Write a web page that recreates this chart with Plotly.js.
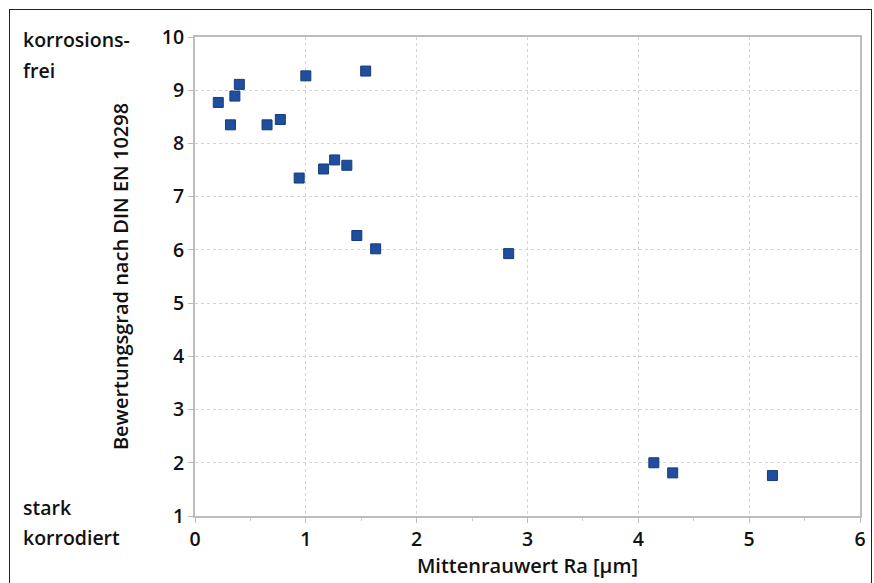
<!DOCTYPE html>
<html>
<head>
<meta charset="utf-8">
<script src="https://cdn.plot.ly/plotly-3.0.1.min.js"></script>
<style>
  html, body { margin: 0; padding: 0; background: #fff; }
  #wrap { position: relative; width: 874px; height: 583px; overflow: hidden; }
  #chart { width: 874px; height: 583px; }
  #frame { position: absolute; left: 9px; top: 9px; width: 863px; height: 620px;
           border: 1.6px solid #222; pointer-events: none; box-sizing: border-box; }
</style>
</head>
<body>
<div id="wrap">
  <div id="chart"></div>
  <div id="frame"></div>
</div>
<script>
// Mittenrauwert Ra [µm]
const raValues = [0.21, 0.32, 0.36, 0.40, 0.65, 0.77, 1.00, 1.54, 0.94, 1.16, 1.26, 1.37, 1.46, 1.63, 2.83, 4.14, 4.31, 5.21];
// Bewertungsgrad nach DIN EN 10298
const gradeValues = [8.77, 8.35, 8.89, 9.11, 8.35, 8.45, 9.27, 9.36, 7.35, 7.52, 7.69, 7.59, 6.27, 6.02, 5.93, 2.00, 1.81, 1.76];
const xTicks = [0, 1, 2, 3, 4, 5, 6];
const yTicks = [1, 2, 3, 4, 5, 6, 7, 8, 9, 10];

const fontFam = '"Open Sans", "Noto Sans", sans-serif';
const txtFont = { family: fontFam, size: 20, color: '#111', weight: 600 };
const tickFont = { family: fontFam, size: 19.5, color: '#111', weight: 600 };

const trace = {
  x: raValues,
  y: gradeValues,
  type: 'scatter',
  mode: 'markers',
  marker: { symbol: 'square', size: 10, color: '#1f4e9c', line: { color: '#163c7c', width: 1 } },
  hoverinfo: 'x+y'
};

const axisCommon = {
  showgrid: true,
  gridcolor: '#d4d4d4',
  griddash: 'dot',
  gridwidth: 1,
  zeroline: false,
  showline: true,
  linecolor: '#bdbdbd',
  linewidth: 2,
  mirror: true,
  ticks: 'outside',
  ticklen: 5,
  tickcolor: '#bdbdbd',
  tickfont: tickFont
};

const layout = {
  width: 874,
  height: 583,
  margin: { l: 195, r: 14, t: 37, b: 67 },
  paper_bgcolor: '#ffffff',
  plot_bgcolor: '#ffffff',
  showlegend: false,
  font: txtFont,
  xaxis: Object.assign({}, axisCommon, {
    range: [0, 6],
    tickvals: xTicks,
    ticktext: xTicks.map(String),
    title: { text: 'Mittenrauwert Ra [µm]', font: txtFont, standoff: 3 },
    minor: { ticks: 'outside', ticklen: 3, tickcolor: '#cccccc', dtick: 0.5, tick0: 0, showgrid: false }
  }),
  yaxis: Object.assign({}, axisCommon, {
    range: [1, 10],
    tickvals: yTicks,
    ticktext: yTicks.map(String),
    title: { text: 'Bewertungsgrad nach DIN EN 10298', font: txtFont, standoff: 28 }
  }),
  annotations: [
    { text: 'korrosions-', xref: 'paper', yref: 'paper', x: -0.261, y: (516 - 40) / 479, xanchor: 'left', yanchor: 'middle', showarrow: false, font: tickFont },
    { text: 'frei', xref: 'paper', yref: 'paper', x: -0.261, y: (516 - 70) / 479, xanchor: 'left', yanchor: 'middle', showarrow: false, font: tickFont },
    { text: 'stark', xref: 'paper', yref: 'paper', x: -0.261, y: (516 - 507) / 479, xanchor: 'left', yanchor: 'middle', showarrow: false, font: tickFont },
    { text: 'korrodiert', xref: 'paper', yref: 'paper', x: -0.261, y: (516 - 537) / 479, xanchor: 'left', yanchor: 'middle', showarrow: false, font: tickFont }
  ]
};

Plotly.newPlot('chart', [trace], layout, { displayModeBar: false, staticPlot: true });
</script>
</body>
</html>
